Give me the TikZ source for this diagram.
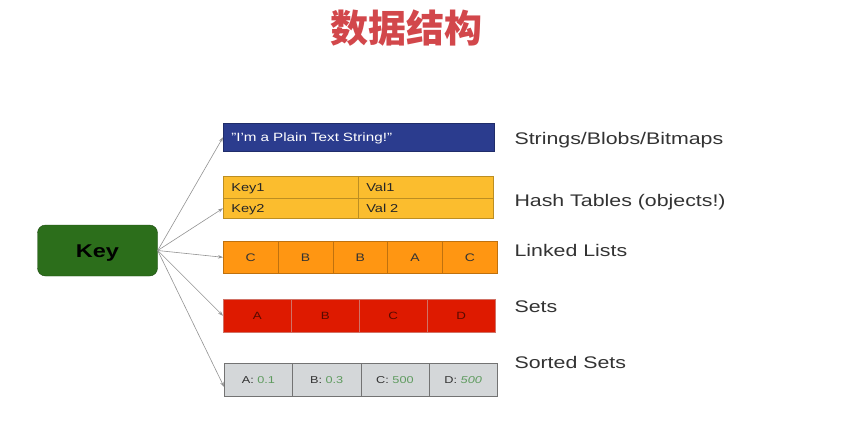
\documentclass[tikz,border=0pt]{standalone}
\usepackage{fontspec}
\setmainfont{Liberation Sans}[FakeStretch=1.27]
\newfontfamily\cjk{Noto Sans CJK SC}
\usepackage{tikz}
\usetikzlibrary{arrows.meta}
\usepackage{xcolor}
\definecolor{titlered}{HTML}{D2474B}
\definecolor{keygreen}{HTML}{2C6E1B}
\definecolor{strblue}{HTML}{2B3C8E}
\definecolor{hashyellow}{HTML}{FBBD2E}
\definecolor{listorange}{HTML}{FF9612}
\definecolor{setred}{HTML}{DE1A00}
\definecolor{sortgray}{HTML}{D4D7D9}
\definecolor{sortgreen}{HTML}{5E9B5E}
\definecolor{labelgray}{HTML}{333333}

\begin{document}
\begin{tikzpicture}[x=1pt,y=-1pt,>={Stealth[length=5pt,width=3.5pt]},
  conn/.style={->,draw=gray!85,line width=0.6pt},
  cell/.style={draw,anchor=north west,inner sep=0pt,line width=0.6pt,text depth=0pt},
  typelabel/.style={anchor=base west,text=labelgray,font=\fontsize{16.8}{20}\selectfont}]
\fill[white] (0,0) rectangle (857,440);
\useasboundingbox (0,0) rectangle (857,440);
% title
\node[anchor=base,text=titlered,font=\cjk\bfseries\fontsize{38}{42}\selectfont] (title) at (406,42) {数据结构};
% the key
\node[draw=keygreen!70!black,fill=keygreen,rounded corners=8pt,minimum width=120pt,minimum height=51pt,
  text height=13.2pt,text depth=0pt,font=\bfseries\fontsize{18.5}{22}\selectfont] (key) at (97.5,250.5) {Key};
% strings
\node[cell,draw=strblue!75!black,fill=strblue,text=white,minimum height=28pt,text width=255pt,inner xsep=8pt,align=left,
  text height=8.6pt,font=\fontsize{12}{14}\selectfont] (str) at (223,123) {"I'm a Plain Text String!"};
% hash table
\tikzset{hashcell/.style={cell,draw=hashyellow!75!black,fill=hashyellow,text=black!85,text width=119pt,inner xsep=8pt,align=left,
  text height=8.2pt,font=\fontsize{11.5}{13}\selectfont}}
\node[hashcell,minimum height=22pt] (hk1) at (223,176) {Key1};
\node[hashcell,minimum height=22pt] (hv1) at (358,176) {Val1};
\node[hashcell,minimum height=20pt] (hk2) at (223,198) {Key2};
\node[hashcell,minimum height=20pt] (hv2) at (358,198) {Val 2};
% linked list
\foreach \t [count=\i] in {C,B,B,A,C}
  \node[cell,draw=listorange!75!black,fill=listorange,text=black!80,minimum width=54.8pt,minimum height=32pt,
    text height=7.9pt,font=\fontsize{11}{13}\selectfont] (ll\i) at ({223+(\i-1)*54.8},241) {\t};
% sets
\foreach \t [count=\i] in {A,B,C,D}
  \node[cell,draw=setred!80!black!60!white,fill=setred,text=setred!40!black,minimum width=68pt,minimum height=33pt,
    text height=7.5pt,font=\fontsize{10.5}{12}\selectfont] (st\i) at ({223+(\i-1)*68},299) {\t};
% sorted sets
\foreach \t/\v [count=\i] in {A/0.1,B/0.3,C/500,D/\textit{500}}
  \node[cell,draw=gray!90!black,fill=sortgray,text=black!80,minimum width=68.25pt,minimum height=33pt,
    text height=7.2pt,font=\fontsize{10}{12}\selectfont] (ss\i) at ({224+(\i-1)*68.25},363) {\t: \textcolor{sortgreen}{\v}};
% type names
\node[typelabel] (lstr) at (511,144) {Strings/Blobs/Bitmaps};
\node[typelabel] (lhash) at (511,206) {Hash Tables (objects!)};
\node[typelabel] (llist) at (511,256) {Linked Lists};
\node[typelabel] (lset) at (511,312) {Sets};
\node[typelabel] (lsort) at (511,368) {Sorted Sets};
% connectors
\draw[conn] (key.east) -- (str.west);
\draw[conn] (key.east) -- (hk2.west);
\draw[conn] (key.east) -- (ll1.west);
\draw[conn] (key.east) -- (st1.west);
\draw[conn] (key.east) -- ([yshift=-7pt]ss1.west);
\end{tikzpicture}
\end{document}
